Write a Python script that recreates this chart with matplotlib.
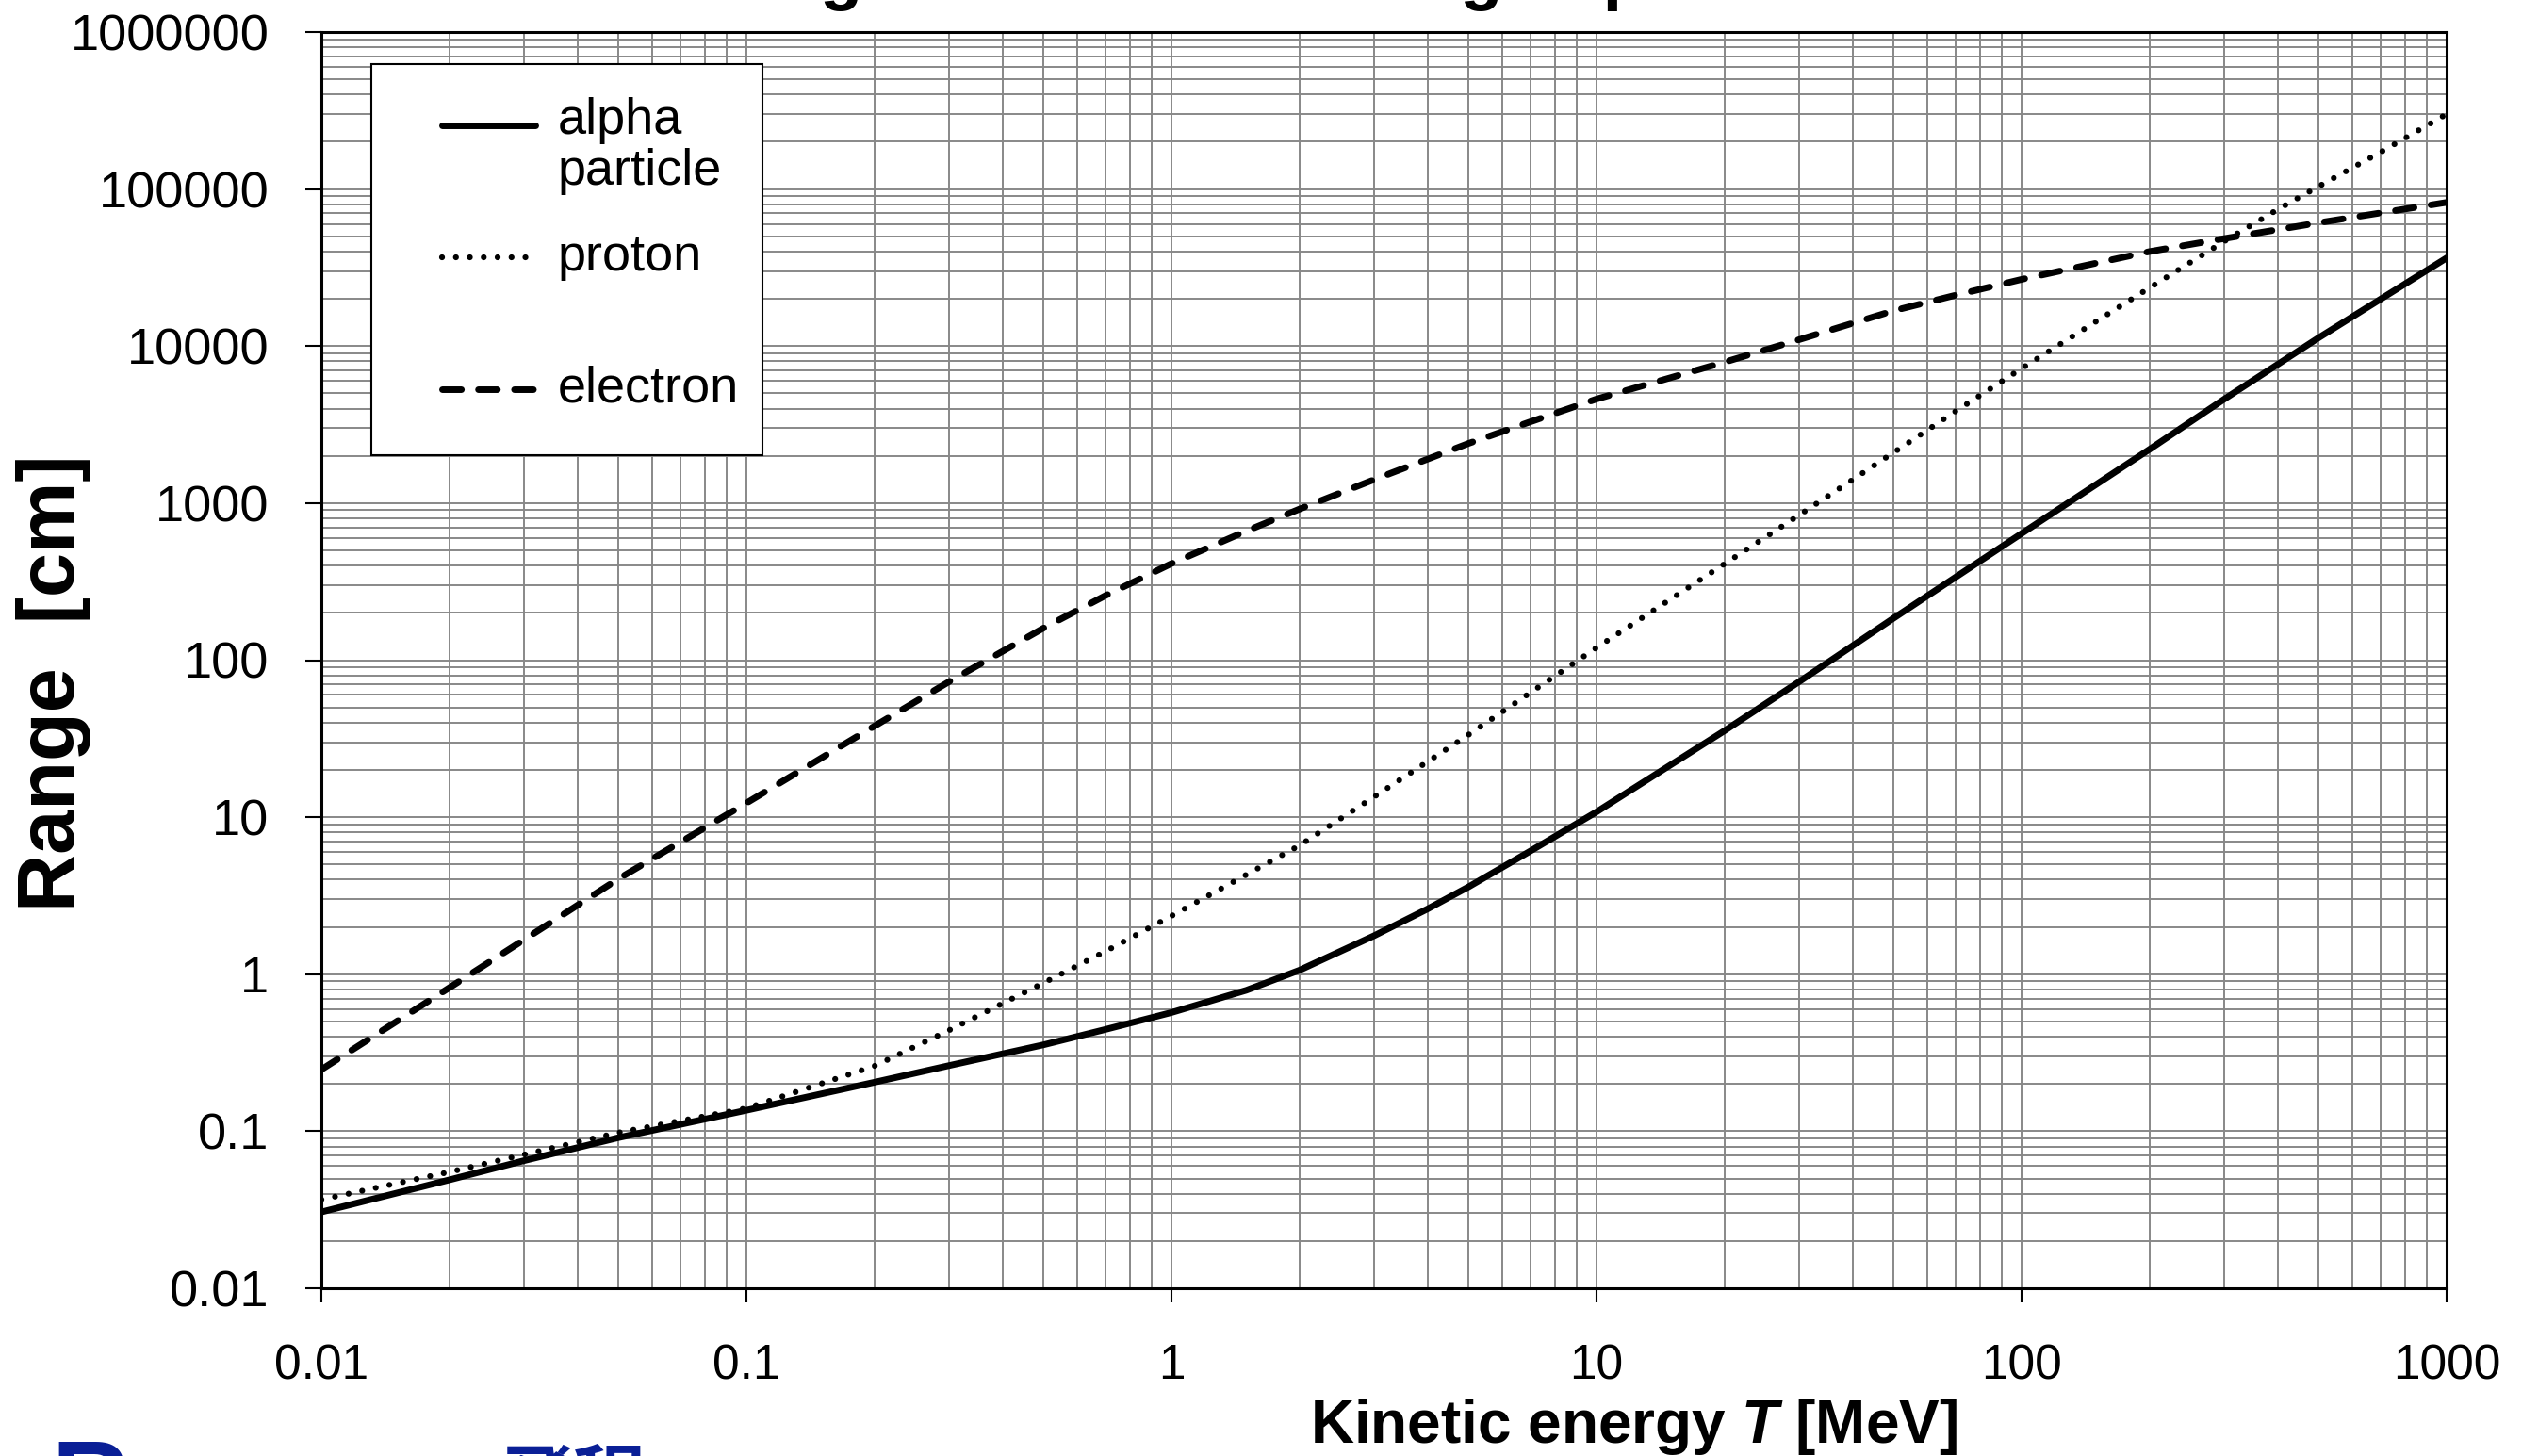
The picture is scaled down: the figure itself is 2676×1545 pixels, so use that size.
import matplotlib
matplotlib.use("Agg")
import matplotlib.pyplot as plt
from matplotlib.patches import Rectangle
from matplotlib.ticker import FixedLocator, LogLocator, NullFormatter

plt.rcParams['font.family'] = ['Liberation Sans', 'DejaVu Sans']
plt.rcParams['mathtext.fontset'] = 'custom'
plt.rcParams['mathtext.it'] = 'Liberation Sans:bold:italic'
plt.rcParams['mathtext.rm'] = 'Liberation Sans:bold'

# range in air [cm] vs kinetic energy [MeV]
alpha_e = [0.01, 0.02, 0.03, 0.05, 0.1, 0.2, 0.3, 0.5, 0.7, 1, 1.5, 2, 3, 4, 5, 7,
           10, 20, 30, 50, 100, 200, 300, 500, 1000]
alpha_r = [0.0306, 0.049, 0.065, 0.091, 0.136, 0.205, 0.262, 0.355, 0.445, 0.57, 0.79,
           1.06, 1.76, 2.6, 3.6, 6.1, 10.8, 35.5, 73, 185, 640, 2200, 4600, 11300, 36400]

proton_e = [0.01, 0.02, 0.03, 0.05, 0.1, 0.2, 0.3, 0.5, 0.7, 1, 2, 3, 5, 10, 20, 30,
            50, 70, 100, 200, 300, 400, 500, 700, 1000]
proton_r = [0.0367, 0.055, 0.071, 0.098, 0.14, 0.26, 0.44, 0.88, 1.4, 2.35, 6.6, 13.5,
            33.5, 120, 410, 840, 2100, 3850, 7200, 23500, 46500, 74000, 104000, 172000, 300000]

electron_e = [0.01, 0.02, 0.03, 0.05, 0.1, 0.2, 0.3, 0.5, 0.7, 1, 1.5, 2, 3, 5, 7, 10,
              20, 30, 50, 70, 100, 200, 300, 500, 1000]
electron_r = [0.247, 0.82, 1.66, 4.05, 12.3, 38, 73, 160, 258, 412, 664, 916, 1413, 2400,
              3300, 4600, 7900, 11000, 16800, 21100, 26600, 40000, 48400, 61000, 82200]

x_ticks = [0.01, 0.1, 1, 10, 100, 1000]
x_labels = ['0.01', '0.1', '1', '10', '100', '1000']
y_ticks = [0.01, 0.1, 1, 10, 100, 1000, 10000, 100000, 1000000]
y_labels = ['0.01', '0.1', '1', '10', '100', '1000', '10000', '100000', '1000000']

DOTS = (0, (0.01, 2.35))
DASHES = (0, (2.9, 2.6))

W, H = 2676, 1545
fig = plt.figure(figsize=(W / 100, H / 100), dpi=100)
ax = fig.add_axes([341 / W, 1 - 1367 / H, (2596 - 341) / W, (1367 - 34) / H])
ax.set_xscale('log')
ax.set_yscale('log')

ax.plot(alpha_e, alpha_r, color='black', lw=5, solid_joinstyle='round', zorder=3)
ax.plot(proton_e, proton_r, color='black', lw=4.5, linestyle=DOTS,
        dash_capstyle='round', zorder=3)
ax.plot(electron_e, electron_r, color='black', lw=5, linestyle=DASHES,
        dash_capstyle='round', zorder=3)

ax.set_xlim(0.01, 1000)
ax.set_ylim(0.01, 1e6)

ax.xaxis.set_major_locator(FixedLocator(x_ticks))
ax.xaxis.set_ticklabels(x_labels)
ax.yaxis.set_major_locator(FixedLocator(y_ticks))
ax.yaxis.set_ticklabels(y_labels)
for axis in (ax.xaxis, ax.yaxis):
    axis.set_minor_locator(LogLocator(base=10, subs=range(2, 10), numticks=20))
    axis.set_minor_formatter(NullFormatter())

ax.grid(True, which='both', color='#888888', lw=1.4)
ax.set_axisbelow(True)
ax.tick_params(which='minor', length=0)
ax.tick_params(axis='x', which='major', length=11, width=1.5, pad=31, labelsize=37)
ax.tick_params(axis='y', which='major', length=12, width=1.5, pad=28, labelsize=39)
for s in ax.spines.values():
    s.set_linewidth(2.2)
    s.set_color('black')

# legend box
ax.add_patch(Rectangle((0.0235, 0.6632), 0.184, 0.3113, transform=ax.transAxes,
                       facecolor='white', edgecolor='black', lw=1.5, zorder=5))
hx = [0.0568, 0.1007]
ax.plot(hx, [0.9257, 0.9257], transform=ax.transAxes, color='black', lw=5,
        solid_capstyle='round', zorder=6)
ax.plot(hx, [0.8207, 0.8207], transform=ax.transAxes, color='black', lw=4.5,
        linestyle=DOTS, dash_capstyle='round', zorder=6)
ax.plot(hx, [0.7157, 0.7157], transform=ax.transAxes, color='black', lw=5,
        linestyle=DASHES, dash_capstyle='round', zorder=6)
ax.text(0.1113, 0.9089, 'alpha\nparticle', transform=ax.transAxes, ha='left',
        va='center', fontsize=39, linespacing=1.1, zorder=6)
ax.text(0.1113, 0.8207, 'proton', transform=ax.transAxes, ha='left', va='center',
        fontsize=39, zorder=6)
ax.text(0.1113, 0.7157, 'electron', transform=ax.transAxes, ha='left', va='center',
        fontsize=39, zorder=6)

fig.text(1734 / W, 1 - 1531 / H, r'Kinetic energy $\mathit{T}$ [MeV]', ha='center',
         va='baseline', fontsize=46, weight='bold')
fig.text(57 / W, 1 - 725 / H, 'Range  [cm]', rotation=90, ha='center', va='center',
         fontsize=61, weight='bold')
fig.text(1367 / W, 1 + 3.5 / H, 'Range in the air of charged particles', ha='center',
         va='baseline', fontsize=53, weight='bold')

# page heading below the chart
fig.text(54 / W, 1 - 1609 / H, 'Range', ha='left', va='baseline', fontsize=82,
         weight='bold', color='#0a1f96')
fig.text(530 / W, 1 - 1597 / H, '飛程', ha='left', va='baseline', fontsize=56,
         weight='bold', color='#0a1f96', family=['Noto Sans CJK JP', 'DejaVu Sans'])

fig.savefig('out.png', dpi=100, facecolor='white')
